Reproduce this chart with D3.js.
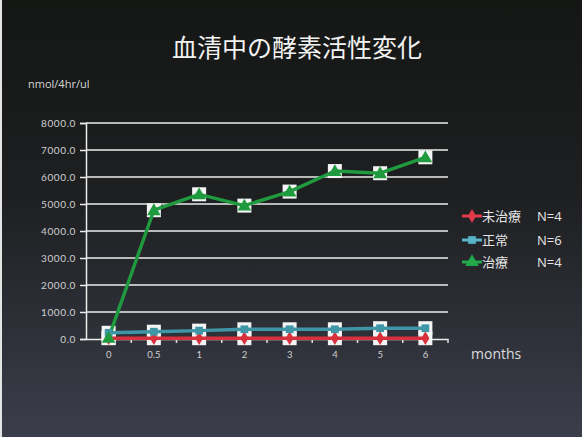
<!DOCTYPE html>
<html>
<head>
<meta charset="utf-8">
<script src="https://cdn.jsdelivr.net/npm/d3@7"></script>
<style>
  html, body { margin: 0; padding: 0; background: #1a1a1a; }
  svg { display: block; }
</style>
</head>
<body>
<svg id="chart" width="582" height="437"></svg>
<script>
// Months after start of treatment
const categories = ["0", "0.5", "1", "2", "3", "4", "5", "6"];
// Serum enzyme activity (nmol/4hr/ul)
const untreated = [30, 30, 30, 30, 30, 30, 30, 30];
const normal = [230, 270, 310, 360, 360, 360, 400, 400];
const treated = [40, 4770, 5360, 4940, 5460, 6220, 6140, 6730];
const yTicks = [0, 1000, 2000, 3000, 4000, 5000, 6000, 7000, 8000];

const seriesNames = ["未治療", "正常", "治療"];
const seriesN = ["N=4", "N=6", "N=4"];
const seriesColors = ["#d8303c", "#3e96a6", "#1f9a3e"];
const legendColors = ["#e23a48", "#5ab2c8", "#22a848"];
const markerTypes = [d3.symbolDiamond, d3.symbolSquare, d3.symbolTriangle];
const markerSizes = [55, 60, 80];

const W = 582, H = 437;
const svg = d3.select("#chart");

// Slide background: near-black at the top fading to slate blue-grey
const defs = svg.append("defs");
const grad = defs.append("linearGradient")
  .attr("id", "bg").attr("x1", 0).attr("y1", 0).attr("x2", 0).attr("y2", 1);
grad.append("stop").attr("offset", "0%").attr("stop-color", "#151715");
grad.append("stop").attr("offset", "45%").attr("stop-color", "#1d1f21");
grad.append("stop").attr("offset", "100%").attr("stop-color", "#3b3e4a");
svg.append("rect").attr("width", W).attr("height", H).attr("fill", "url(#bg)");
// light margin on the left edge of the slide
svg.append("rect").attr("x", 0).attr("y", 0).attr("width", 2).attr("height", H).attr("fill", "#e4e4e4");

const plot = { left: 86, right: 448, top: 123, bottom: 339 };

const x = d3.scaleBand().domain(categories).range([plot.left, plot.right]);
const y = d3.scaleLinear().domain([0, 8000]).range([plot.bottom, plot.top]);
const cx = c => x(c) + x.bandwidth() / 2;

// Title
svg.append("text")
  .attr("x", 297).attr("y", 57)
  .attr("text-anchor", "middle")
  .attr("font-family", "'Noto Sans CJK JP', sans-serif")
  .attr("font-size", 25)
  .attr("fill", "#f2f2f2")
  .text("血清中の酵素活性変化");

// Unit label
svg.append("text")
  .attr("x", 28).attr("y", 88)
  .attr("font-family", "'Open Sans', sans-serif")
  .attr("font-size", 11)
  .attr("fill", "#d6d6d6")
  .text("nmol/4hr/ul");

// Horizontal gridlines
svg.append("g").selectAll("line")
  .data(yTicks.filter(v => v > 0))
  .join("line")
  .attr("x1", plot.left).attr("x2", plot.right)
  .attr("y1", d => y(d)).attr("y2", d => y(d))
  .attr("stroke", "#ececec").attr("stroke-width", 1.5);

// Y axis
const yAxis = svg.append("g")
  .attr("transform", `translate(${plot.left},0)`)
  .call(d3.axisLeft(y).tickValues(yTicks).tickFormat(d3.format(".1f")).tickSize(6).tickPadding(4));
yAxis.select(".domain").attr("stroke", "#ececec").attr("stroke-width", 1.5);
yAxis.selectAll(".tick line").attr("stroke", "#ececec").attr("stroke-width", 1.5);
yAxis.selectAll(".tick text")
  .attr("fill", "#d0d0d0")
  .attr("font-family", "'Lato', sans-serif")
  .attr("font-size", 10)
  .attr("letter-spacing", 0.6);

// X axis
const xAxis = svg.append("g")
  .attr("transform", `translate(0,${plot.bottom})`)
  .call(d3.axisBottom(x).tickSize(0).tickPadding(12));
xAxis.select(".domain").attr("stroke", "#ececec").attr("stroke-width", 1.5);
xAxis.selectAll(".tick text")
  .attr("fill", "#d0d0d0")
  .attr("font-family", "'Lato', sans-serif")
  .attr("font-size", 9.5);
// small tick marks on band boundaries
xAxis.append("g").selectAll("line")
  .data(categories.slice(1).concat(["end"]))
  .join("line")
  .attr("x1", (d, i) => plot.left + x.step() * (i + 1))
  .attr("x2", (d, i) => plot.left + x.step() * (i + 1))
  .attr("y1", 0).attr("y2", 4)
  .attr("stroke", "#e0e0e0").attr("stroke-width", 1.5);

// X axis title
svg.append("text")
  .attr("x", 471).attr("y", 359)
  .attr("font-family", "'Open Sans', sans-serif")
  .attr("font-size", 14)
  .attr("fill", "#dcdcdc")
  .text("months");

const allSeries = [untreated, normal, treated];

// White backing boxes behind each point
const boxes = svg.append("g");
allSeries.forEach(vals => {
  boxes.selectAll(null)
    .data(vals)
    .join("rect")
    .attr("x", (d, i) => cx(categories[i]) - 7)
    .attr("y", d => y(d) - 7)
    .attr("width", 14).attr("height", 14)
    .attr("fill", "#f4f4f4");
});

// Lines
const line = d3.line().x((d, i) => cx(categories[i])).y(d => y(d));
allSeries.forEach((vals, s) => {
  svg.append("path")
    .datum(vals)
    .attr("d", line)
    .attr("fill", "none")
    .attr("stroke", seriesColors[s])
    .attr("stroke-width", 3.4)
    .attr("stroke-linejoin", "round");
});

// Markers
allSeries.forEach((vals, s) => {
  svg.append("g").selectAll("path")
    .data(vals)
    .join("path")
    .attr("transform", (d, i) => `translate(${cx(categories[i])},${y(d) + (s === 2 ? 1 : 0)})`)
    .attr("d", d3.symbol().type(markerTypes[s]).size(markerSizes[s]))
    .attr("fill", seriesColors[s]);
});

// Legend
const legend = svg.append("g");
const legendY = [216, 240, 262];
seriesNames.forEach((name, s) => {
  const g = legend.append("g").attr("transform", `translate(0,${legendY[s]})`);
  g.append("line")
    .attr("x1", 462).attr("x2", 482).attr("y1", 0).attr("y2", 0)
    .attr("stroke", legendColors[s]).attr("stroke-width", 3);
  g.append("path")
    .attr("transform", "translate(472,0)")
    .attr("d", d3.symbol().type(markerTypes[s]).size(markerSizes[s]))
    .attr("fill", legendColors[s]);
  g.append("text")
    .attr("x", 482).attr("y", 5)
    .attr("font-family", "'Noto Sans CJK JP', sans-serif")
    .attr("font-size", 13)
    .attr("fill", "#e6e6e6")
    .text(name);
  g.append("text")
    .attr("x", 537).attr("y", 5)
    .attr("font-family", "'Open Sans', sans-serif")
    .attr("font-size", 13)
    .attr("fill", "#e6e6e6")
    .text(seriesN[s]);
});
</script>
</body>
</html>
